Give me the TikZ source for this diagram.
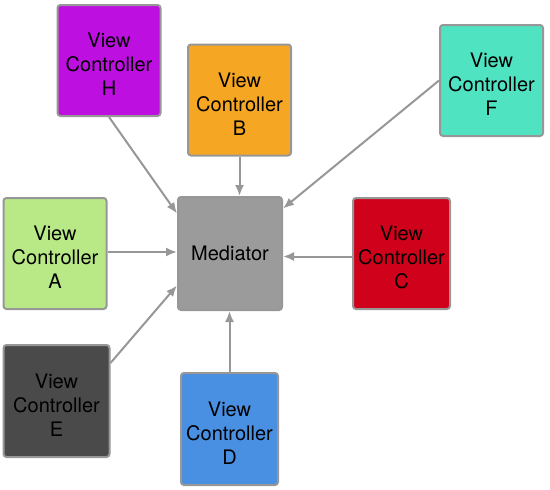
\documentclass[tikz,border=0pt]{standalone}
\usepackage{fontspec}
\setmainfont{TeX Gyre Heros}
\usepackage{xcolor}
\usetikzlibrary{arrows.meta,calc}
\definecolor{vcH}{HTML}{BD10E0}
\definecolor{vcB}{HTML}{F5A623}
\definecolor{vcF}{HTML}{50E3C2}
\definecolor{vcA}{HTML}{B8E986}
\definecolor{vcC}{HTML}{D0021B}
\definecolor{vcE}{HTML}{4A4A4A}
\definecolor{vcD}{HTML}{4A90E2}
\definecolor{medgray}{HTML}{9B9B9B}
\definecolor{edgegray}{HTML}{979797}
\newcommand{\vclabel}[1]{\rule{0pt}{22pt}View\\Controller\\#1}
\tikzset{
	vcbox/.style={
			draw=edgegray, line width=2pt, rounded corners=3pt, fill=#1,
			minimum width=103pt, minimum height=111pt, inner sep=0pt,
			align=center, font=\fontsize{20}{24}\selectfont
		},
	link/.style={draw=edgegray, line width=2pt, -{Latex[length=11pt,width=9pt]}}
}

\begin{document}
\begin{tikzpicture}[x=1pt,y=-1pt]
			\useasboundingbox (0,0) rectangle (550,490);
			\node[vcbox=vcH] (vcH) at (109,60.5) {\vclabel{H}};
			\node[vcbox=vcB] (vcB) at (239.5,100) {\vclabel{B}};
			\node[vcbox=vcF] (vcF) at (491.5,80.5) {\vclabel{F}};
			\node[vcbox=vcA] (vcA) at (55,253.5) {\vclabel{A}};
			\node[vcbox=medgray,minimum width=104pt,minimum height=113pt] (med) at (230,253.5) {Mediator};
			\node[vcbox=vcC,minimum width=97pt] (vcC) at (401.5,253.5) {\vclabel{C}};
			\node[vcbox=vcE,minimum width=106pt,minimum height=112pt] (vcE) at (56.5,401) {\vclabel{E}};
			\node[vcbox=vcD,minimum width=97pt,minimum height=112pt] (vcD) at (229.5,429) {\vclabel{D}};
			% everything points at the mediator
			\draw[link] (vcH.south) -- ([yshift=40pt]med.west);
			\draw[link] (vcB.south) -- (vcB.south |- med.north);
			\draw[link] (vcF.west) -- ([yshift=45pt]med.east);
			\draw[link] ([yshift=-3pt]vcC.west) -- ([yshift=-3pt]med.east);
			\draw[link] ([yshift=1.5pt]vcA.east) -- ([yshift=1.5pt]med.west);
			\draw[link] ([yshift=38pt]vcE.east) -- ([yshift=-32pt]med.west);
			\draw[link] (vcD.north) -- (vcD.north |- med.south);
		\end{tikzpicture}
\end{document}
